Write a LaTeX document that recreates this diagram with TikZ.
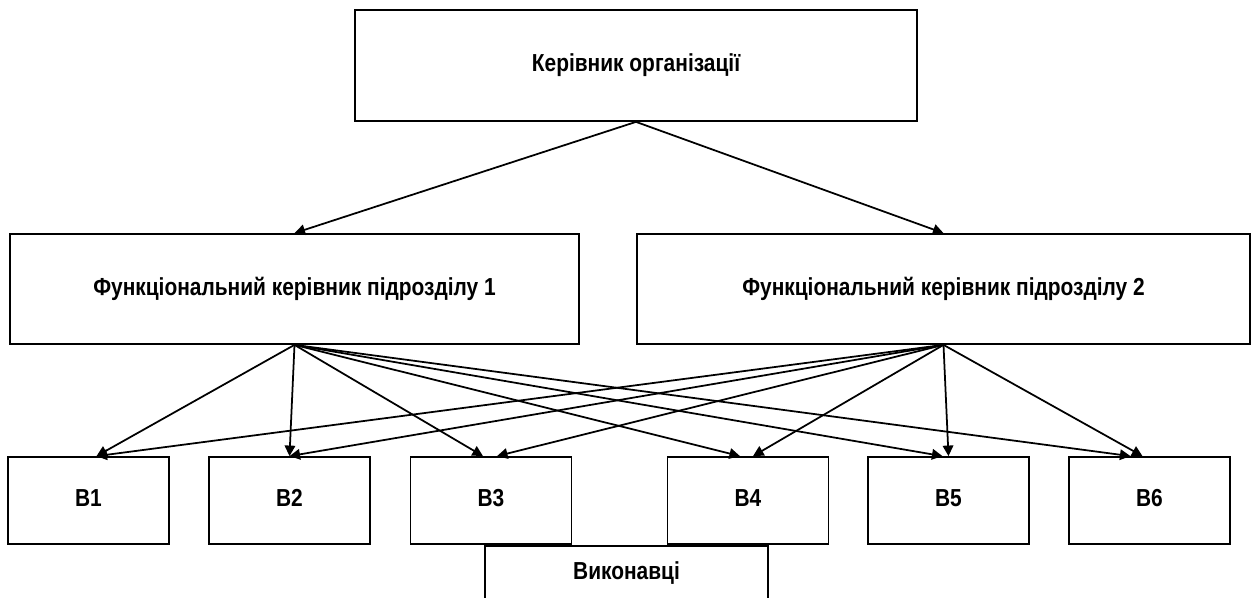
\documentclass[tikz,border=0pt]{standalone}
\usepackage{fontspec}
\setmainfont{Liberation Sans}[FakeStretch=0.85]
\usetikzlibrary{arrows.meta}

\begin{document}
\begin{tikzpicture}[
  box/.style={
    draw, rectangle, font=\bfseries\fontsize{14}{16}\selectfont,
    text height=1.6ex, text depth=0.3ex, inner sep=0pt, line width=1pt
  },
  link/.style={-{Triangle[length=6pt,width=6pt]}, line width=1pt}
]
\useasboundingbox (0,0) rectangle (25.08,-11.96);

% levels
\node[box, minimum width=11.24cm, minimum height=2.22cm] (head) at (12.72,-1.31) {Керівник організації};
\node[box, minimum width=11.38cm, minimum height=2.2cm] (fm1) at (5.89,-5.78) {Функціональний керівник підрозділу 1};
\node[box, minimum width=12.26cm, minimum height=2.2cm] (fm2) at (18.87,-5.78) {Функціональний керівник підрозділу 2};

\foreach \i/\x in {1/1.77, 2/5.79, 3/9.82, 4/14.96, 5/18.97, 6/22.99}
  \node[box, minimum width=3.22cm, minimum height=1.74cm] (b\i) at (\x,-10.01) {В\i};

\node[box, minimum width=5.66cm, minimum height=1.1cm] (exec) at (12.53,-11.47) {Виконавці};

% arrows
\draw[link] (head.south) -- (fm1.north);
\draw[link] (head.south) -- (fm2.north);
\foreach \i/\l/\r in {1/0.16/0.16, 2/0/0, 3/-0.16/0.12, 4/-0.16/0.1, 5/-0.12/0, 6/-0.38/-0.14} {
  \draw[link] (fm1.south) -- ([xshift=\l cm]b\i.north);
  \draw[link] (fm2.south) -- ([xshift=\r cm]b\i.north);
}
\end{tikzpicture}
\end{document}
